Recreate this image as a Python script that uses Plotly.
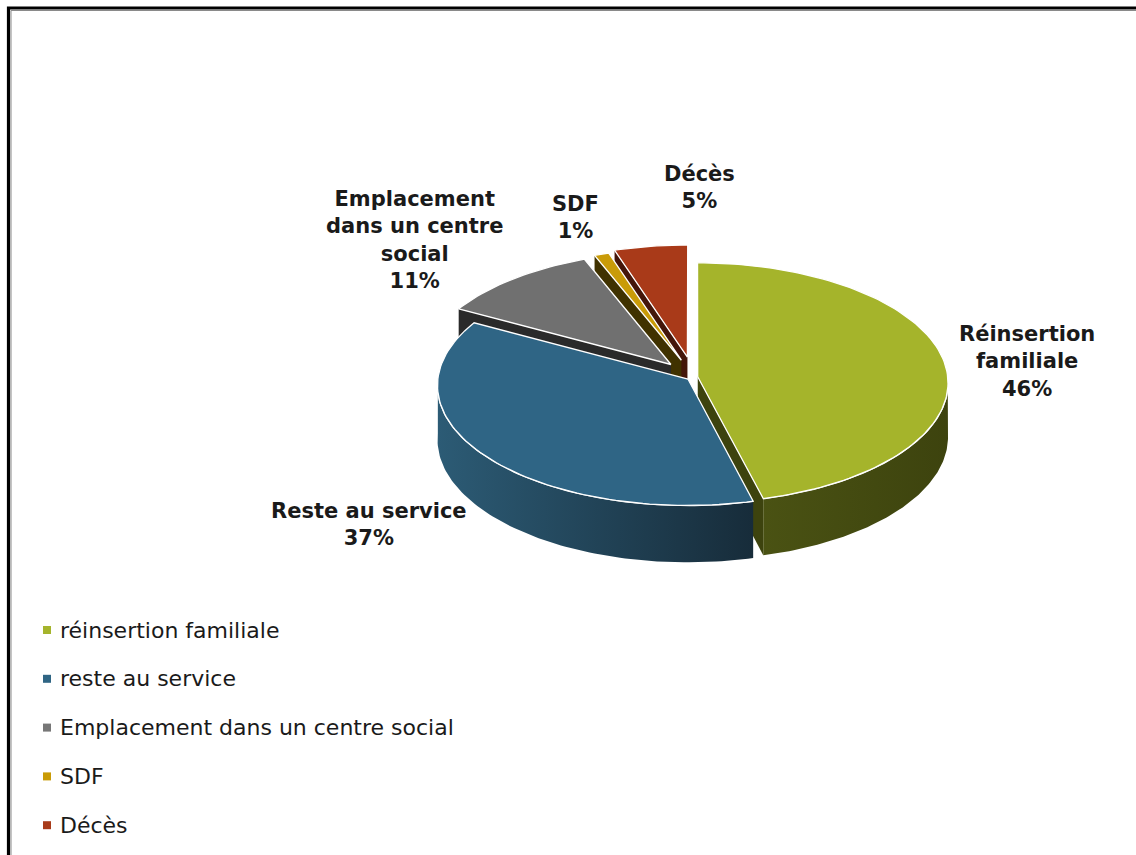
import numpy as np
import plotly.graph_objects as go

# ---- data ----
categories = ["réinsertion familiale", "reste au service",
              "Emplacement dans un centre social", "SDF", "Décès"]
slice_labels = ["Réinsertion<br>familiale", "Reste au service",
                "Emplacement<br>dans un centre<br>social", "SDF", "Décès"]
percent = [46, 37, 11, 1, 5]

# ---- style ----
explode = [0.015, 0.03, 0.14, 0.15, 0.17]
top_colors = ["#A5B42B", "#2F6585", "#707070", "#C99B08", "#A93A19"]
side_colors = [("#4A5213", "#3D430E"), ("#2C5B75", "#172C3A"),
               ("#343434", "#2A2A2A"), ("#4F3E03", "#403200"),
               ("#581D0C", "#44160A")]
legend_colors = ["#A5B42C", "#2F6584", "#777777", "#C99B06", "#A83B1A"]
label_pos = [(1027, 361), (369, 524), (414, 240), (575, 217), (699, 187)]

W, H = 1136, 855
CX, CY = 694, 377          # pie apex on screen
RX, RY = 250, 119.7        # radii of the tilted disc
K = 0.05                   # perspective strength
DEPTH = 54                 # thickness of the pie
FONT = "DejaVu Sans"


def proj(X, Z, h=0.0):
    s = 1.0 / (1.0 + K * Z)
    return CX + RX * X * s, CY + (-RY * Z + h) * s


fig = go.Figure()


def poly(xs, ys, color, line_color=None, line_width=0.6, gradient=None):
    kw = dict(fillcolor=color)
    if gradient is not None:
        kw = dict(fillgradient=dict(type="horizontal",
                                    colorscale=[[0, gradient[0]], [1, gradient[1]]]))
    fig.add_trace(go.Scatter(
        x=list(xs) + [xs[0]], y=list(ys) + [ys[0]], mode="lines",
        fill="toself", line=dict(color=line_color or color, width=line_width),
        hoverinfo="skip", showlegend=False, **kw))


total = float(sum(percent))
bounds = np.concatenate([[0], np.cumsum(percent)]) / total * 360.0
slices = []
for i in range(len(percent)):
    a, b = bounds[i], bounds[i + 1]
    m = np.radians((a + b) / 2)
    ox, oz = explode[i] * np.sin(m), explode[i] * np.cos(m)
    slices.append(dict(i=i, a=a, b=b, ox=ox, oz=oz, depth_key=np.cos(m)))

# paint from the back of the pie to the front
for sl in sorted(slices, key=lambda d: -d["depth_key"]):
    i, a, b, ox, oz = sl["i"], sl["a"], sl["b"], sl["ox"], sl["oz"]
    c_light, c_dark = side_colors[i]

    def rim(t, h=0.0):
        r = np.radians(t)
        return proj(ox + np.sin(r), oz + np.cos(r), h)

    vx, vy = proj(ox, oz)
    vbx, vby = proj(ox, oz, DEPTH)

    # radial walls facing the viewer
    for t, visible in ((a, np.sin(np.radians(a)) < -1e-9),
                       (b, np.sin(np.radians(b)) > 1e-9)):
        if visible:
            px, py = rim(t)
            pbx, pby = rim(t, DEPTH)
            poly([vx, px, pbx, vbx], [vy, py, pby, vby], c_dark, line_width=0)

    # curved outer wall on the front half, shaded left to right
    lo, hi = max(a, 90.0), min(b, 270.0)
    if hi > lo:
        ts = np.linspace(lo, hi, 90)
        top_pts = [rim(t) for t in ts]
        bot_pts = [rim(t, DEPTH) for t in ts[::-1]]
        xs = [p[0] for p in top_pts + bot_pts]
        ys = [p[1] for p in top_pts + bot_pts]
        poly(xs, ys, c_dark, line_width=0, gradient=(c_light, c_dark))
        # white rim where the top meets the wall
        fig.add_trace(go.Scatter(x=[p[0] for p in top_pts],
                                 y=[p[1] for p in top_pts], mode="lines",
                                 line=dict(color="white", width=1.6),
                                 hoverinfo="skip", showlegend=False))

    # top face
    ts = np.linspace(a, b, max(int((b - a) / 1.5), 3) + 1)
    pts = [rim(t) for t in ts]
    xs = [vx] + [p[0] for p in pts]
    ys = [vy] + [p[1] for p in pts]
    poly(xs, ys, top_colors[i], line_color="white", line_width=1.3)

# data labels
for i, (lx, ly) in enumerate(label_pos):
    fig.add_annotation(x=lx, y=ly, xref="x", yref="y", showarrow=False,
                       text=f"{slice_labels[i]}<br>{percent[i]}%",
                       align="center",
                       font=dict(family=FONT, size=21, color="#1a1a1a",
                                 weight="bold"))

# legend entries
leg_x, leg_y0, leg_dy = 47, 630, 48.8
leg_y = [leg_y0 + k * leg_dy for k in range(len(categories))]
fig.add_trace(go.Scatter(
    x=[leg_x] * len(categories), y=leg_y, mode="markers",
    marker=dict(symbol="square", size=8, color=legend_colors),
    hoverinfo="skip", showlegend=False))
for name, yy in zip(categories, leg_y):
    fig.add_annotation(x=58, y=yy, xref="x", yref="y", showarrow=False,
                       xanchor="left", yanchor="middle", text=name,
                       font=dict(family=FONT, size=22, color="#1a1a1a"))

# frame
fig.add_shape(type="rect", x0=8.5, y0=8, x1=W + 20, y1=H + 20,
              xref="x", yref="y", line=dict(color="black", width=3.2))
fig.add_shape(type="path", path=f"M 11 {H + 20} L 11 10.5 L {W + 20} 10.5",
              xref="x", yref="y", line=dict(color="#8a8a8a", width=1))

fig.update_layout(
    width=W, height=H, margin=dict(l=0, r=0, t=0, b=0),
    paper_bgcolor="white", plot_bgcolor="white",
    xaxis=dict(range=[0, W], visible=False, fixedrange=True),
    yaxis=dict(range=[H, 0], visible=False, fixedrange=True),
    showlegend=False,
)

fig.write_html("out.html")
